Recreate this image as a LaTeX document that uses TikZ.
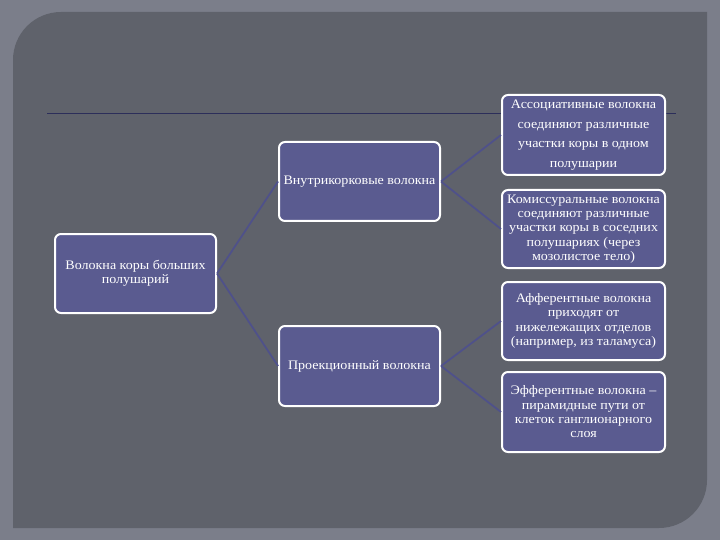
\documentclass[tikz,border=0pt]{standalone}
\usepackage{fontspec}
\setmainfont{Liberation Serif}[FakeStretch=1.08]
\definecolor{outerbg}{HTML}{7B7E8A}
\definecolor{panel}{HTML}{5F626B}
\definecolor{boxfill}{HTML}{5A5B90}
\definecolor{link}{HTML}{4F518A}
\definecolor{rule}{HTML}{2C2E5A}
\begin{document}
\begin{tikzpicture}[x=1pt,y=-1pt,
  box/.style={draw=white,line width=2pt,fill=boxfill,rounded corners=6pt,text=white,align=center,font=\fontsize{13}{14.3}\selectfont,inner sep=1pt},
  conn/.style={draw=link,line width=1.8pt}]
\useasboundingbox (0,0) rectangle (720,540);
\fill[outerbg] (0,0) rectangle (720,540);
\fill[panel] (13,60) arc[start angle=180,end angle=270,radius=48] -- (707,12) -- (707,480) arc[start angle=0,end angle=90,radius=48] -- (13,528) -- cycle;
\draw[rule,line width=1pt] (47,114) -- (676,114);
\node[box,minimum width=161pt,minimum height=79pt] (root) at (135.5,273.5) {Волокна коры больших\\полушарий};
\node[box,minimum width=161pt,minimum height=79pt] (intra) at (359.5,181.5) {Внутрикорковые волокна};
\node[box,minimum width=161pt,minimum height=80pt] (proj) at (359.5,366) {Проекционный волокна};
\node[box,minimum width=163pt,minimum height=80pt,font=\fontsize{13}{19.5}\selectfont] (l1) at (583.5,135) {Ассоциативные волокна\\соединяют различные\\участки коры в одном\\полушарии};
\node[box,minimum width=163pt,minimum height=78pt] (l2) at (583.5,229) {Комиссуральные волокна\\соединяют различные\\участки коры в соседних\\полушариях (через\\мозолистое тело)};
\node[box,minimum width=163pt,minimum height=78pt] (l3) at (583.5,321) {Афферентные волокна\\приходят от\\нижележащих отделов\\(например, из таламуса)};
\node[box,minimum width=163pt,minimum height=80pt] (l4) at (583.5,412) {Эфферентные волокна –\\пирамидные пути  от\\клеток ганглионарного\\слоя};
\draw[conn] (root.east) -- (intra.west);
\draw[conn] (root.east) -- (proj.west);
\draw[conn] (intra.east) -- (l1.west);
\draw[conn] (intra.east) -- (l2.west);
\draw[conn] (proj.east) -- (l3.west);
\draw[conn] (proj.east) -- (l4.west);
\end{tikzpicture}
\end{document}
